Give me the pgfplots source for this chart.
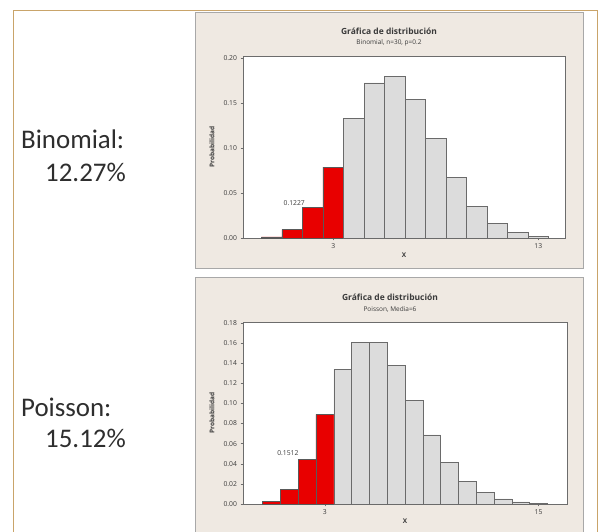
\documentclass[border=0pt]{standalone}
\usepackage{pgfplots}
\pgfplotsset{compat=1.18}
\usepackage{fontspec}
\setmainfont{Carlito}
\newfontfamily\chartfont{Open Sans}
\definecolor{panelbg}{HTML}{EFE9E2}
\definecolor{paneledge}{HTML}{A8A8A8}
\definecolor{frametan}{HTML}{C9A46A}
\definecolor{barred}{HTML}{E80000}
\definecolor{bargray}{HTML}{DCDCDC}
\definecolor{baredge}{HTML}{6A6A6A}
\definecolor{txt}{HTML}{3A3A3A}
\definecolor{bigtxt}{HTML}{2E2E2E}

\pgfplotstableread{
x p
0 0.00124
1 0.00928
2 0.03366
3 0.07853
}\binred
\pgfplotstableread{
x p
4 0.13252
5 0.17228
6 0.17946
7 0.15382
8 0.11056
9 0.06757
10 0.03548
11 0.01613
12 0.00638
13 0.00221
}\bingray
\pgfplotstableread{
x p
0 0.00248
1 0.01487
2 0.04462
3 0.08924
}\poired
\pgfplotstableread{
x p
4 0.13385
5 0.16062
6 0.16062
7 0.13768
8 0.10326
9 0.06884
10 0.04130
11 0.02253
12 0.01126
13 0.00520
14 0.00223
15 0.00089
}\poigray

\pgfplotsset{minitab/.style={
  scale only axis,
  anchor=south west,
  axis background/.style={fill=white},
  axis line style={draw=gray!85!black, line width=0.6pt},
  tick style={draw=gray!85!black, line width=0.5pt},
  tick align=outside, major tick length=2.5pt,
  ytick pos=left, xtick pos=bottom,
  tick label style={font=\chartfont\fontsize{6.8}{7}\selectfont, text=txt},
  /pgf/number format/assume math mode=true,
  yticklabel style={/pgf/number format/.cd, fixed, fixed zerofill, precision=2},
  xticklabel style={/pgf/number format/.cd, fixed},
  every axis y label/.style={at={(axis description cs:0,0.5)}, xshift=-31bp, rotate=90, anchor=center, font=\chartfont\bfseries\fontsize{6.5}{7}\selectfont, text=txt},
  every axis x label/.style={at={(axis description cs:0.5,0)}, yshift=-17bp, anchor=center, font=\chartfont\bfseries\fontsize{6.5}{7}\selectfont, text=txt},
  every axis title/.style={at={(axis description cs:0.5,1)}, xshift=-15bp, yshift=19bp, anchor=center, align=center, text=txt, font=\chartfont},
  ylabel={Probabilidad}, xlabel={X},
  clip=false,
}}

\begin{document}
\begin{tikzpicture}
\path[use as bounding box, fill=white] (0,0) rectangle (602bp,532bp);
% slide frame
\draw[frametan, line width=0.8pt] (13bp,0) -- (13bp,522bp) -- (597bp,522bp) -- (597bp,0);
% panels
\draw[paneledge, fill=panelbg, line width=0.7pt] (195bp,264bp) rectangle (583bp,520bp);
\draw[paneledge, fill=panelbg, line width=0.7pt] (195bp,-2bp) rectangle (583bp,255bp);
% left texts
\node[anchor=base west, font=\fontsize{27}{32}\selectfont, text=bigtxt, inner sep=0] at (21bp,383bp) {Binomial:};
\node[anchor=base west, font=\fontsize{27}{32}\selectfont, text=bigtxt, inner sep=0] at (45bp,350bp) {12.27\%};
\node[anchor=base west, font=\fontsize{27}{32}\selectfont, text=bigtxt, inner sep=0] at (21bp,115bp) {Poisson:};
\node[anchor=base west, font=\fontsize{27}{32}\selectfont, text=bigtxt, inner sep=0] at (45bp,84bp) {15.12\%};

\begin{axis}[minitab, at={(243bp,294bp)}, width=322bp, height=182bp,
  xmin=-1.4, xmax=14.3, ymin=0, ymax=0.202,
  ytick={0,0.05,0.10,0.15,0.20}, xtick={3,13},
  title={{\bfseries\fontsize{8.5}{9}\selectfont Gráfica de distribución}\\[-1.5pt]{\fontsize{6.5}{7}\selectfont Binomial, n=30, p=0.2}}]
\addplot[ybar, bar width=1, bar shift=0pt, fill=barred, draw=black!65, line width=0.5pt] table[x=x,y=p] {\binred};
\addplot[ybar, bar width=1, bar shift=0pt, fill=bargray, draw=baredge, line width=0.5pt] table[x=x,y=p] {\bingray};
\node[font=\chartfont\fontsize{6.8}{7}\selectfont, text=txt] at (axis cs:1.1,0.0386) {0.1227};
\end{axis}

\begin{axis}[minitab, at={(243bp,28bp)}, width=324bp, height=182bp,
  xmin=-1.6, xmax=16.6, ymin=0, ymax=0.181,
  ytick={0,0.02,0.04,0.06,0.08,0.10,0.12,0.14,0.16,0.18}, xtick={3,15},
  title={{\bfseries\fontsize{8.5}{9}\selectfont Gráfica de distribución}\\[-1.5pt]{\fontsize{6.5}{7}\selectfont Poisson, Media=6}}]
\addplot[ybar, bar width=1, bar shift=0pt, fill=barred, draw=black!65, line width=0.5pt] table[x=x,y=p] {\poired};
\addplot[ybar, bar width=1, bar shift=0pt, fill=bargray, draw=baredge, line width=0.5pt] table[x=x,y=p] {\poigray};
\node[font=\chartfont\fontsize{6.8}{7}\selectfont, text=txt] at (axis cs:0.92,0.0507) {0.1512};
\end{axis}
\end{tikzpicture}
\end{document}
